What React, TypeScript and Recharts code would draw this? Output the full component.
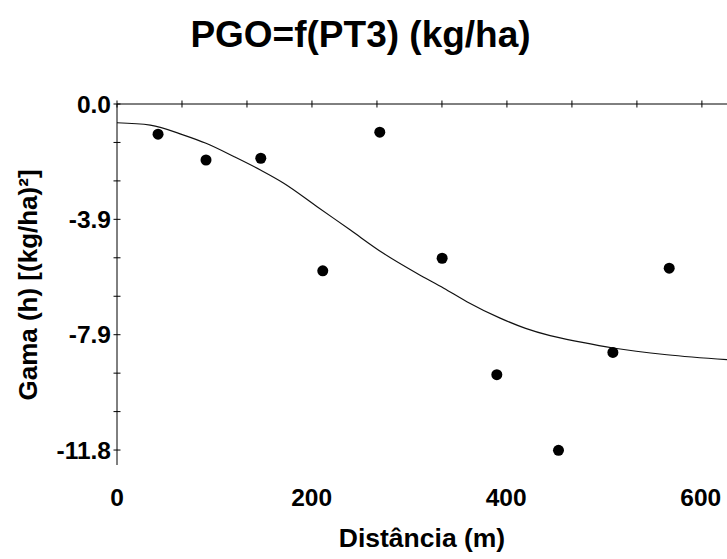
import { ComposedChart, XAxis, YAxis, Line, Scatter } from "recharts";

// experimental semivariogram points (distance m, gamma)
const sampleDist = [42.2, 91.5, 147.8, 211.5, 270.1, 334.2, 390.4, 453.8, 509.7, 567.6];
const sampleGamma = [-1.03, -1.91, -1.85, -5.69, -0.96, -5.26, -9.23, -11.81, -8.47, -5.6];

// fitted model
const modelDist = [0, 34.2, 68.6, 91.5, 120, 147.4, 171.4, 205.7, 239.9, 274.2, 308.5, 335.9, 359.6, 393.8, 420, 445.2, 477, 510, 565.2, 627];
const modelGamma = [-0.64, -0.72, -1.06, -1.34, -1.79, -2.25, -2.7, -3.5, -4.3, -5.1, -5.78, -6.28, -6.74, -7.3, -7.65, -7.9, -8.12, -8.32, -8.55, -8.72];

const xLabelTicks = [0, 200, 400, 600];
const xTopTicks = [0, 66.8, 133.6, 200.4, 267.2, 334, 400.8, 467.6, 534.4, 601.2];
const yTicks = [0, -1.311, -2.622, -3.933, -5.244, -6.556, -7.867, -9.178, -10.489, -11.8];
const yMajorTicks = [0, -3.933, -7.867, -11.8];

const samples = sampleDist.map((x, i) => ({ x, y: sampleGamma[i] }));
const model = modelDist.map((x, i) => ({ x, y: modelGamma[i] }));

const FONT = "'Liberation Sans', Arial, sans-serif";

const YTick = (props: any) => {
  const { x, y, payload } = props;
  const major = yMajorTicks.includes(payload.value);
  return (
    <g>
      <line x1={x - 3.5} x2={x + 3.5} y1={y} y2={y} stroke="#000" strokeWidth={1} />
      {major && (
        <text
          x={x - 6}
          y={y}
          textAnchor="end"
          dominantBaseline="central"
          fontFamily={FONT}
          fontWeight="bold"
          fontSize={24.5}
          fill="#000"
        >
          {payload.value.toFixed(1)}
        </text>
      )}
    </g>
  );
};

const TopTick = (props: any) => {
  const { x, y } = props;
  return <line x1={x} x2={x} y1={y - 3.5} y2={y + 3.5} stroke="#000" strokeWidth={1} />;
};

const BottomTick = (props: any) => {
  const { x, y, payload } = props;
  return (
    <text
      x={x}
      y={y + 32}
      textAnchor="middle"
      dominantBaseline="central"
      fontFamily={FONT}
      fontWeight="bold"
      fontSize={24.5}
      fill="#000"
    >
      {payload.value}
    </text>
  );
};

export default function App() {
  return (
    <div
      style={{
        position: "absolute",
        left: 0,
        top: 0,
        width: 727,
        height: 559,
        overflow: "hidden",
        background: "#fff",
      }}
    >
      <div
        style={{
          position: "absolute",
          left: 0,
          top: 12,
          width: 721,
          textAlign: "center",
          fontFamily: FONT,
          fontWeight: "bold",
          fontSize: 37,
          lineHeight: "46px",
          color: "#000",
        }}
      >
        PGO=f(PT3) (kg/ha)
      </div>
      <div
        style={{
          position: "absolute",
          left: 28,
          top: 285,
          transform: "translate(-50%, -50%) rotate(-90deg)",
          whiteSpace: "nowrap",
          fontFamily: FONT,
          fontWeight: "bold",
          fontSize: 26,
          lineHeight: "30px",
          color: "#000",
        }}
      >
        Gama (h) [(kg/ha)²]
      </div>
      <ComposedChart
        width={727}
        height={559}
        margin={{ top: 84, right: 0, bottom: 0, left: 0 }}
        style={{ position: "absolute", left: 0, top: 0 }}
      >
        <XAxis
          xAxisId="top"
          orientation="top"
          type="number"
          dataKey="x"
          domain={[0, 627]}
          allowDataOverflow
          ticks={xTopTicks}
          interval={0}
          height={20}
          tickSize={0}
          tickMargin={0}
          tick={<TopTick />}
          axisLine={{ stroke: "#000", strokeWidth: 1 }}
          tickLine={false}
        />
        <XAxis
          xAxisId="bottom"
          orientation="bottom"
          type="number"
          dataKey="x"
          domain={[0, 627]}
          allowDataOverflow
          ticks={xLabelTicks}
          interval={0}
          height={94}
          tickSize={0}
          tickMargin={0}
          tick={<BottomTick />}
          axisLine={false}
          tickLine={false}
          label={{
            value: "Distância (m)",
            position: "insideBottom",
            offset: 12,
            fontFamily: FONT,
            fontWeight: "bold",
            fontSize: 26.5,
            fill: "#000",
          }}
        />
        <YAxis
          type="number"
          dataKey="y"
          domain={[-12.31, 0]}
          allowDataOverflow
          ticks={yTicks}
          interval={0}
          width={117}
          tickSize={0}
          tickMargin={0}
          tick={<YTick />}
          axisLine={{ stroke: "#000", strokeWidth: 1 }}
          tickLine={false}
        />
        <Line
          xAxisId="bottom"
          data={model}
          dataKey="y"
          type="monotone"
          stroke="#111"
          strokeWidth={1.2}
          dot={false}
          activeDot={false}
          isAnimationActive={false}
        />
        <Scatter
          xAxisId="bottom"
          data={samples}
          dataKey="y"
          fill="#000"
          isAnimationActive={false}
          shape={(p: any) => <circle cx={p.cx} cy={p.cy} r={5.5} fill="#000" />}
        />
      </ComposedChart>
    </div>
  );
}
